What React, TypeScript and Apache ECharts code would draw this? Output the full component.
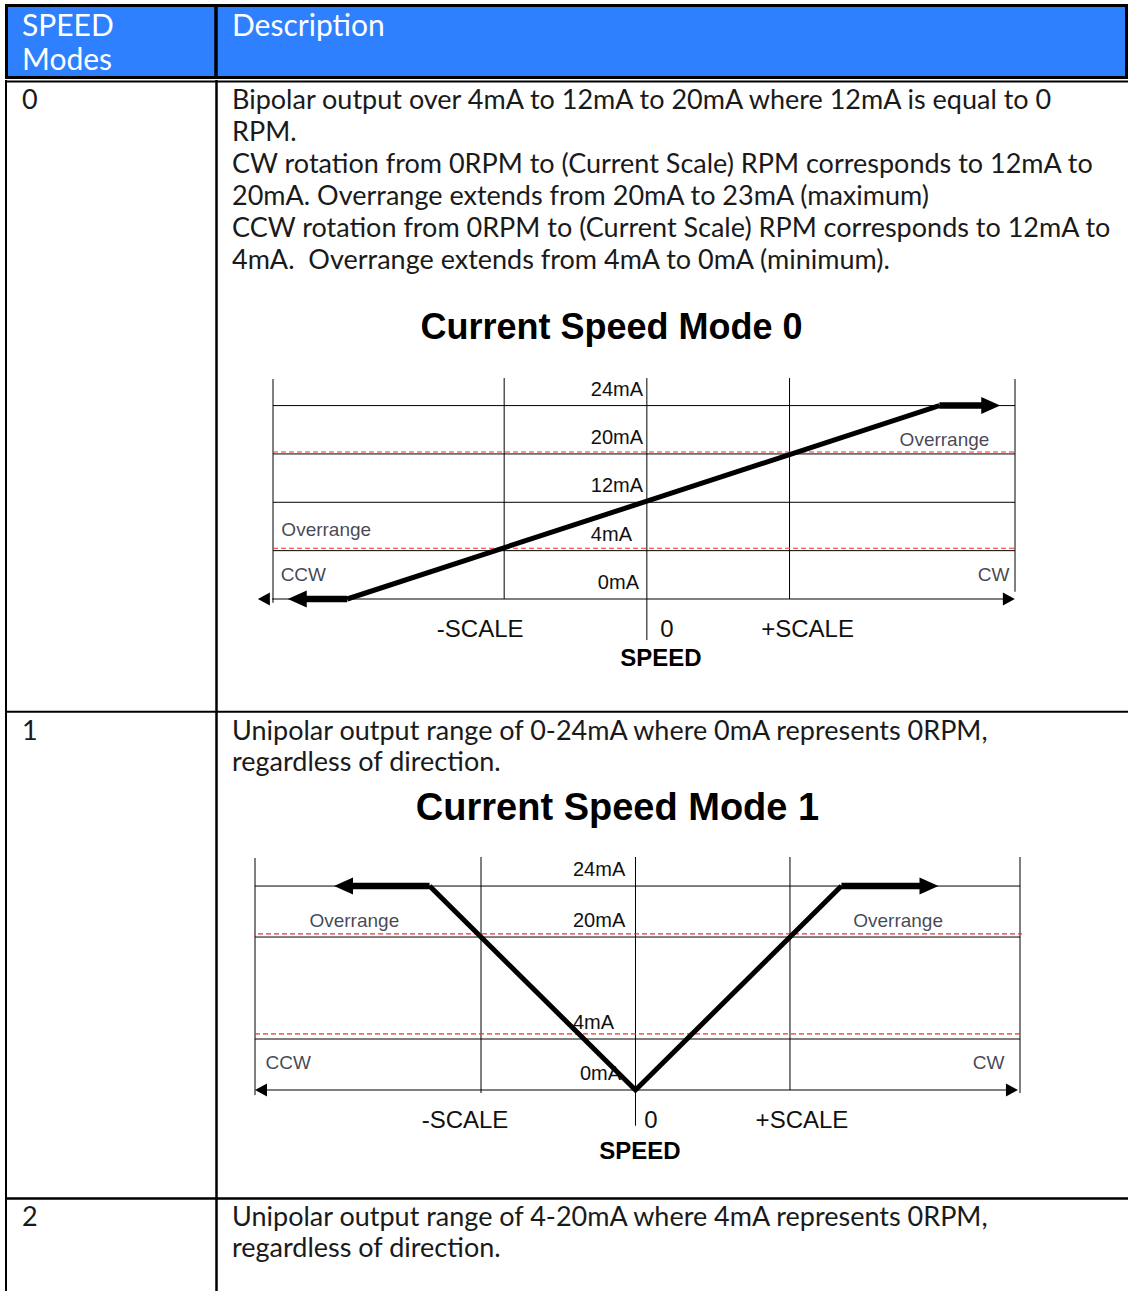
import React, { useEffect, useRef } from "react";
import * as echarts from "echarts";

const W = 1128;
const H = 1291;

// ---------- table text ----------
const headerMode = ["SPEED", "Modes"];
const headerDesc = "Description";
const modeIds = ["0", "1", "2"];
const mode0Desc = [
  "Bipolar output over 4mA to 12mA to 20mA where 12mA is equal to 0",
  "RPM.",
  "CW rotation from 0RPM to (Current Scale) RPM corresponds to 12mA to",
  "20mA. Overrange extends from 20mA to 23mA (maximum)",
  "CCW rotation from 0RPM to (Current Scale) RPM corresponds to 12mA to",
  "4mA.  Overrange extends from 4mA to 0mA (minimum).",
];
const mode1Desc = [
  "Unipolar output range of 0-24mA where 0mA represents 0RPM,",
  "regardless of direction.",
];
const mode2Desc = [
  "Unipolar output range of 4-20mA where 4mA represents 0RPM,",
  "regardless of direction.",
];

// ---------- chart data (speed in SCALE units, current as level index) ----------
const chartTitles = ["Current Speed Mode 0", "Current Speed Mode 1"];
const levelLabels0 = ["0mA", "4mA", "12mA", "20mA", "24mA"];
const levelLabels1 = ["0mA", "4mA", "", "20mA", "24mA"];
const speedTickValues = [-1, 0, 1];
const speedTickLabels = ["-SCALE", "0", "+SCALE"];
const speedRange0 = [-2.62, 2.58];
const speedRange1 = [-2.463, 2.489];
const levelTop = 4.55;
const gridLevels0 = [1, 2, 3, 4];
const gridLevels1 = [1, 3, 4];
const limitLevels0 = [1.05, 3.04]; // red dashed: 4mA and 20mA limits
const limitLevels1 = [1.1, 3.06];
// main transfer curves
const mode0Curve: [number, number][] = [[-2.1, 0], [2.05, 4]];
const mode0OverrangeTips: [number, number][] = [[-2.45, 0], [2.41, 4]];
const mode1Curve: [number, number][] = [[-1.333, 4], [0, 0], [1.333, 4]];
const mode1OverrangeTips: [number, number][] = [[-1.89, 4], [1.9, 4]];
// speed axis arrows (tips) and vertical guide lines [x, yTop, yBottom]
const speedAxis0: [number, number] = [-2.684, 2.537];
const speedAxis1: [number, number] = [-2.424, 2.437];
const verticals0: [number, number, number][] = [
  [-2.62, 4.55, -0.08], [-1, 4.57, 0], [0, 4.57, -0.85], [1, 4.57, 0], [2.58, 4.55, 0.15],
];
const verticals1: [number, number, number][] = [
  [-2.463, 4.55, -0.1], [-1, 4.57, -0.06], [0, 4.57, -0.7], [1, 4.57, 0], [2.489, 4.57, -0.06],
];
const limitSpan1: [number, number][] = [[-2.463, 2.553], [-2.495, 2.553]];
const notes0 = [
  { text: "Overrange", x: -2.565, y: 1.43, pos: "right" },
  { text: "CCW", x: -2.57, y: 0.5, pos: "right" },
  { text: "Overrange", x: 2.404, y: 3.29, pos: "left" },
  { text: "CW", x: 2.544, y: 0.5, pos: "left" },
];
const notes1 = [
  { text: "Overrange", x: -1.82, y: 3.33, pos: "inside" },
  { text: "Overrange", x: 1.7, y: 3.33, pos: "inside" },
  { text: "CCW", x: -2.398, y: 0.53, pos: "right" },
  { text: "CW", x: 2.392, y: 0.53, pos: "left" },
];

const TEXT_FONT = 'Lato, "Noto Sans", sans-serif';
const CHART_FONT = '"Liberation Sans", Arial, sans-serif';
const BLUE = "#2E80FF";
const INK = "#1a1a1a";

function line(gi: number, pts: any[], width: number, color: string, dashed = false, z = 2) {
  return {
    type: "line",
    xAxisIndex: gi,
    yAxisIndex: gi,
    data: pts,
    symbol: "triangle",
    showSymbol: true,
    clip: false,
    silent: true,
    z,
    itemStyle: { color },
    lineStyle: { color, width, type: dashed ? [5, 3] : "solid", join: "miter", cap: "butt" },
  };
}
const plain = (p: [number, number]) => ({ value: p, symbol: "none" });
const arrow = (p: [number, number], right: boolean, size: number[]) => ({
  value: p,
  symbol: "triangle",
  symbolSize: size,
  symbolRotate: right ? -90 : 90,
  itemStyle: { color: "#000" },
});

function chartSeries(
  gi: number,
  range: number[],
  gridLevels: number[],
  limits: number[],
  limitSpans: [number, number][] | null,
  verticals: [number, number, number][],
  axisTips: [number, number],
  curve: [number, number][],
  tips: [number, number][],
  notes: any[]
) {
  const s: any[] = [];
  gridLevels.forEach((lv) =>
    s.push(line(gi, [plain([range[0], lv]), plain([range[1], lv])], 1, "#000"))
  );
  limits.forEach((lv, i) => {
    const span = limitSpans ? limitSpans[i] : range;
    s.push(line(gi, [plain([span[0], lv]), plain([span[1], lv])], 1.2, "#ff2a2a", true, 3));
  });
  verticals.forEach((v) =>
    s.push(line(gi, [plain([v[0], v[1]]), plain([v[0], v[2]])], 1, "#000"))
  );
  s.push(
    line(gi, [arrow([axisTips[0], 0], false, [13, 12]), arrow([axisTips[1], 0], true, [13, 12])], 1, "#000")
  );
  // transfer curve
  s.push(line(gi, curve.map(plain), 5, "#000", false, 5));
  // overrange arrows (thicker shafts)
  s.push(line(gi, [arrow(tips[0], false, [17, 19]), plain(curve[0])], 6.5, "#000", false, 5));
  s.push(line(gi, [plain(curve[curve.length - 1]), arrow(tips[1], true, [17, 19])], 6.5, "#000", false, 5));
  s.push({
    type: "scatter",
    xAxisIndex: gi,
    yAxisIndex: gi,
    symbolSize: 1,
    silent: true,
    z: 6,
    itemStyle: { color: "rgba(0,0,0,0)" },
    data: notes.map((n) => ({
      value: [n.x, n.y],
      name: n.text,
      label: {
        show: true,
        position: n.pos,
        distance: 0,
        formatter: n.text,
        fontSize: 19,
        fontFamily: CHART_FONT,
        color: "#14142a",
      },
    })),
  });
  return s;
}

function xAxisFor(gi: number, range: number[], shifts: number[][], namePad: number, nameGap: number) {
  return {
    type: "value",
    gridIndex: gi,
    min: range[0],
    max: range[1],
    interval: 1,
    axisLine: { show: false },
    axisTick: { show: false },
    splitLine: { show: false },
    name: "SPEED",
    nameLocation: "middle",
    nameGap,
    nameTextStyle: {
      fontFamily: CHART_FONT,
      fontWeight: "bold",
      fontSize: 24,
      color: "#000",
      padding: [0, 0, 0, namePad],
    },
    axisLabel: {
      customValues: speedTickValues,
      margin: 17,
      fontSize: 24,
      fontFamily: CHART_FONT,
      color: "#111",
      showMinLabel: true,
      showMaxLabel: true,
      formatter: (v: number) => {
        const i = speedTickValues.findIndex((t) => Math.abs(t - v) < 1e-6);
        return i < 0 ? "" : `{s${i}|${speedTickLabels[i]}}`;
      },
      rich: {
        s0: { fontSize: 24, fontFamily: CHART_FONT, color: "#111", padding: shifts[0] },
        s1: { fontSize: 24, fontFamily: CHART_FONT, color: "#111", padding: shifts[1] },
        s2: { fontSize: 24, fontFamily: CHART_FONT, color: "#111", padding: shifts[2] },
      },
    },
  };
}

// y axis placed on the speed = 0 line via a (negative) offset from the grid's left edge
function yAxisFor(gi: number, labels: string[], range: number[], gridWidth: number, labelLeft: number) {
  const zeroOffset = (-range[0] / (range[1] - range[0])) * gridWidth;
  return {
    type: "value",
    gridIndex: gi,
    position: "left",
    offset: -zeroOffset,
    min: 0,
    max: levelTop,
    interval: 1,
    axisLine: { show: false, onZero: false },
    axisTick: { show: false },
    splitLine: { show: false },
    axisLabel: {
      margin: labelLeft,
      align: "left",
      fontSize: 20,
      fontFamily: CHART_FONT,
      color: "#111",
      verticalAlign: "bottom",
      padding: [0, 0, 7, 0],
      formatter: (v: number) => {
        const r = Math.round(v);
        if (Math.abs(r - v) > 1e-6 || !labels[r]) return "";
        return r === 0 ? `{z|${labels[r]}}` : labels[r];
      },
      rich: {
        z: { fontSize: 20, fontFamily: CHART_FONT, color: "#111", padding: [0, 0, 0, 7] },
      },
    },
  };
}

function txt(x: number, y: number, text: string, font: string, fill: string, align = "left") {
  return {
    type: "text",
    x,
    y,
    silent: true,
    z: 10,
    style: {
      text,
      font,
      fill,
      textAlign: align,
      align,
      textVerticalAlign: "middle",
      verticalAlign: "middle",
    },
  };
}
function hline(x1: number, x2: number, y: number, w: number) {
  return { type: "line", silent: true, z: 9, shape: { x1, y1: y, x2, y2: y }, style: { stroke: "#000", lineWidth: w } };
}
function vline(x: number, y1: number, y2: number, w: number) {
  return { type: "line", silent: true, z: 9, shape: { x1: x, y1, x2: x, y2 }, style: { stroke: "#000", lineWidth: w } };
}

function buildOption() {
  const bodyFont = `27px ${TEXT_FONT}`;
  const headFont = `30px ${TEXT_FONT}`;
  const graphics: any[] = [
    { type: "rect", silent: true, z: 8, shape: { x: 6.5, y: 5.5, width: 1120, height: 72 }, style: { fill: BLUE, stroke: "#000", lineWidth: 3 } },
    vline(216, 5, 78, 3.5),
    hline(5, W, 81.5, 2),
    hline(5, W, 711.7, 2),
    hline(5, W, 1198.5, 2.5),
    vline(6, 80, H, 2),
    vline(216.5, 80, H, 2.5),
    txt(22, 24, headerMode[0], headFont, "#fff"),
    txt(22, 58, headerMode[1], headFont, "#fff"),
    txt(232, 24, headerDesc, headFont, "#fff"),
    txt(22, 98, modeIds[0], bodyFont, INK),
    txt(22, 729, modeIds[1], bodyFont, INK),
    txt(22, 1215, modeIds[2], bodyFont, INK),
    txt(611.5, 326, chartTitles[0], `bold 36px ${CHART_FONT}`, "#000", "center"),
    txt(617.5, 807, chartTitles[1], `bold 38px ${CHART_FONT}`, "#000", "center"),
  ];
  mode0Desc.forEach((t, i) => graphics.push(txt(232, 98 + i * 32, t, bodyFont, INK)));
  mode1Desc.forEach((t, i) => graphics.push(txt(232, 729 + i * 31, t, bodyFont, INK)));
  mode2Desc.forEach((t, i) => graphics.push(txt(232, 1215 + i * 31, t, bodyFont, INK)));

  return {
    animation: false,
    backgroundColor: "#fff",
    grid: [
      { left: 273, top: 379, width: 742, height: 220, outerBoundsMode: "none", containLabel: false },
      { left: 255, top: 858, width: 765, height: 232, outerBoundsMode: "none", containLabel: false },
    ],
    xAxis: [
      xAxisFor(0, speedRange0, [[0, 48, 0, 0], [0, 0, 0, 40], [0, 0, 0, 36]], 34, 46),
      xAxisFor(1, speedRange1, [[0, 32, 0, 0], [0, 0, 0, 31], [0, 0, 0, 24]], 5, 48),
    ],
    yAxis: [
      yAxisFor(0, levelLabels0, speedRange0, 742, 56),
      yAxisFor(1, levelLabels1, speedRange1, 765, 62.5),
    ],
    series: [
      ...chartSeries(0, speedRange0, gridLevels0, limitLevels0, null, verticals0, speedAxis0, mode0Curve, mode0OverrangeTips, notes0),
      ...chartSeries(1, speedRange1, gridLevels1, limitLevels1, limitSpan1, verticals1, speedAxis1, mode1Curve, mode1OverrangeTips, notes1),
    ],
    graphic: graphics,
  };
}

export default function App() {
  const ref = useRef<HTMLDivElement>(null);
  useEffect(() => {
    if (!ref.current) return;
    const chart = echarts.init(ref.current, undefined, { renderer: "svg" });
    chart.setOption(buildOption() as any);
    return () => chart.dispose();
  }, []);
  return (
    <div
      ref={ref}
      style={{ position: "absolute", left: 0, top: 0, width: W, height: H, background: "#fff" }}
    />
  );
}
